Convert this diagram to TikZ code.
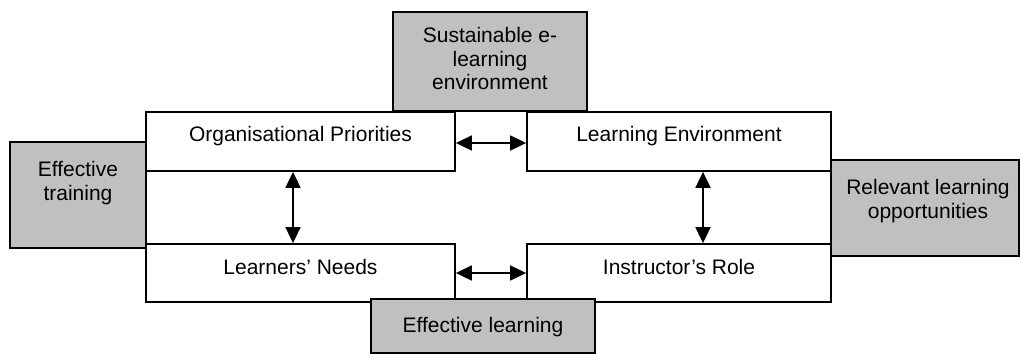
\documentclass[tikz,border=0pt]{standalone}
\usepackage{fontspec}
\setmainfont{Liberation Sans}
\usetikzlibrary{arrows.meta,calc}
\definecolor{boxgray}{HTML}{C0C0C0}
\begin{document}
\begin{tikzpicture}[x=1pt,y=-1pt,
  wbox/.style={draw=black,fill=white,line width=1.8pt,rectangle,inner sep=0pt},
  gbox/.style={draw=black,fill=boxgray,line width=1.8pt,rectangle,inner sep=0pt},
  lbl/.style={anchor=north,inner sep=0pt,align=center,font=\fontsize{21}{23.5}\selectfont},
  arr/.style={line width=1.8pt,{Triangle[length=16pt,width=15pt]}-{Triangle[length=16pt,width=15pt]}}]
\useasboundingbox (0,0) rectangle (1020,354);
% white boxes
\node[wbox,minimum width=309pt,minimum height=59pt] (org) at (300.5,141.5) {};
\node[wbox,minimum width=304pt,minimum height=59pt] (le) at (679,141.5) {};
\node[wbox,minimum width=309pt,minimum height=58pt] (ln) at (300.5,273) {};
\node[wbox,minimum width=304pt,minimum height=58pt] (ir) at (679,273) {};
% gray boxes
\node[gbox,minimum width=194pt,minimum height=99pt] (top) at (490,61.5) {};
\node[gbox,minimum width=136pt,minimum height=106pt] (left) at (78,195) {};
\node[gbox,minimum width=188pt,minimum height=96pt] (right) at (925,208) {};
\node[gbox,minimum width=224pt,minimum height=54pt] (bot) at (483,326) {};
% texts
\node[lbl] (orgt) at (300.5,126.5) {Organisational Priorities};
\node[lbl] (let) at (679,126.5) {Learning Environment};
\node[lbl] (lnt) at (300.5,259.5) {Learners’ Needs};
\node[lbl] (irt) at (679,259.5) {Instructor’s Role};
\node[lbl] (topt) at (490,27.5) {Sustainable e-\\learning\\environment};
\node[lbl] (leftt) at (78,161.5) {Effective\\training};
\node[lbl] (rightt) at (928,179.5) {Relevant learning\\opportunities};
\node[lbl] (bott) at (483,317.5) {Effective learning};
% arrows
\draw[arr] ([yshift=-1.5pt]org.east) -- ([yshift=-1.5pt]le.west);
\draw[arr] (ln.east) -- (ir.west);
\draw[arr] ([xshift=-7.5pt]org.south) -- ([xshift=-7.5pt]ln.north);
\draw[arr] ([xshift=24pt]le.south) -- ([xshift=24pt]ir.north);
\end{tikzpicture}
\end{document}
